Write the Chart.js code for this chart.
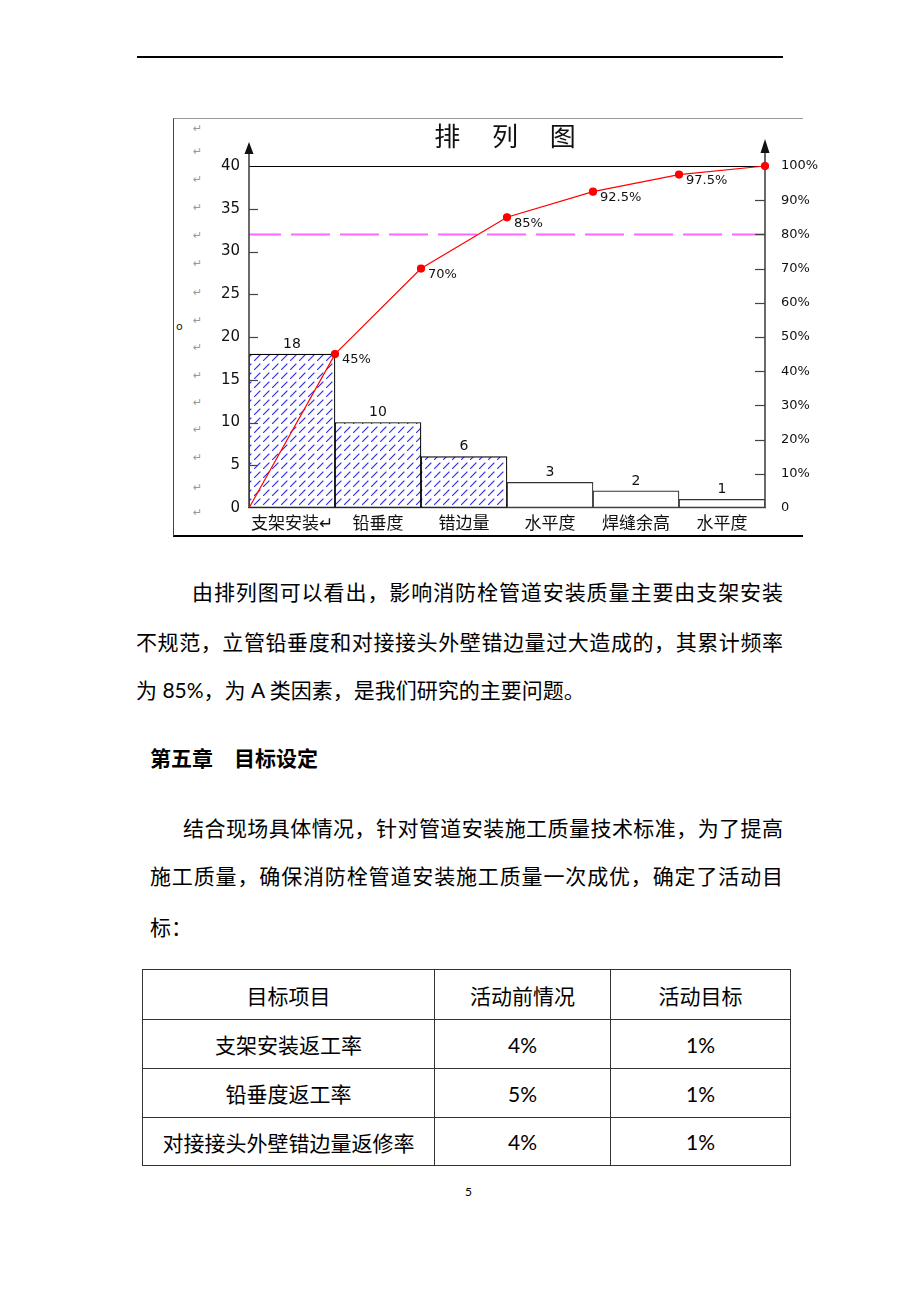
<!DOCTYPE html>
<html>
<head>
<meta charset="utf-8">
<script src="https://cdn.jsdelivr.net/npm/chart.js@4/dist/chart.umd.min.js"></script>
<style>
  html, body { margin: 0; padding: 0; background: #fff; }
  #page { position: relative; width: 920px; height: 1302px; overflow: hidden; font-family: "Noto Sans CJK SC", sans-serif; color: #000; }
  .rule { position: absolute; left: 137px; top: 56px; width: 646px; height: 0; border-top: 2px solid #000; }
  .frame { position: absolute; left: 173px; top: 118px; width: 630px; height: 419px; border-left: 1px solid #444; border-top: 1px solid #999; border-bottom: 2px solid #000; box-sizing: border-box; }
  #chartBox { position: absolute; left: 173px; top: 118px; width: 664px; height: 418px; }
  #chartBox canvas { display: block; }
  .mark { position: absolute; left: 193px; font-size: 11px; line-height: 11px; color: #999; font-family: "DejaVu Sans", sans-serif; }
  .txt { position: absolute; font-size: 21px; line-height: 30px; white-space: nowrap; font-family: "Lato", "Noto Sans CJK SC", sans-serif; }
  .just { white-space: normal; text-align: justify; text-align-last: justify; }
  .head { font-weight: bold; }
  table { position: absolute; left: 142px; top: 969px; width: 648px; border-collapse: collapse; table-layout: fixed; font-family: "Lato", "Noto Sans CJK SC", sans-serif; font-size: 21px; }
  td { border: 1px solid #333; text-align: center; padding: 0; }
  .pno { position: absolute; left: 465px; top: 1184px; font-size: 12px; font-family: "Lato", sans-serif; }
</style>
</head>
<body>
<div id="page">
  <div class="rule"></div>
  <div class="frame"></div>
  <div id="marks"></div>
  <div style="position:absolute;left:176px;top:320px;font-size:11px;color:#222;font-family:'DejaVu Sans',sans-serif;">o</div>
  <div id="chartBox"><canvas id="c" width="664" height="418" style="width:664px;height:418px"></canvas></div>

  <div class="txt just" style="left:192px;top:577px;width:591px;">由排列图可以看出，影响消防栓管道安装质量主要由支架安装</div>
  <div class="txt just" style="left:136px;top:627px;width:647px;">不规范，立管铅垂度和对接接头外壁错边量过大造成的，其累计频率</div>
  <div class="txt" style="left:136px;top:675px;">为 85%，为 A 类因素，是我们研究的主要问题。</div>

  <div class="txt head" style="left:150px;top:743px;">第五章　目标设定</div>

  <div class="txt just" style="left:183px;top:813px;width:600px;">结合现场具体情况，针对管道安装施工质量技术标准，为了提高</div>
  <div class="txt just" style="left:150px;top:861px;width:633px;">施工质量，确保消防栓管道安装施工质量一次成优，确定了活动目</div>
  <div class="txt" style="left:150px;top:912px;">标：</div>

  <table>
    <colgroup><col style="width:292px"><col style="width:176px"><col style="width:180px"></colgroup>
    <tr style="height:50px"><td>目标项目</td><td>活动前情况</td><td>活动目标</td></tr>
    <tr style="height:49px"><td>支架安装返工率</td><td>4%</td><td>1%</td></tr>
    <tr style="height:49px"><td>铅垂度返工率</td><td>5%</td><td>1%</td></tr>
    <tr style="height:48px"><td>对接接头外壁错边量返修率</td><td>4%</td><td>1%</td></tr>
  </table>

  <div class="pno">5</div>
</div>

<script>
// ---------------- data ----------------
const categories = ['支架安装↵', '铅垂度', '错边量', '水平度', '焊缝余高', '水平度'];
const counts = [18, 10, 6, 3, 2, 1];
const cumulativePct = [0, 45, 70, 85, 92.5, 97.5, 100];
const cumulativeLabels = ['', '45%', '70%', '85%', '92.5%', '97.5%', ''];
const thresholdPct = 80;
const leftMax = 40;
const leftStep = 5;
const rightTickLabels = ['0', '10%', '20%', '30%', '40%', '50%', '60%', '70%', '80%', '90%', '100%'];
const hatchedBars = 3;

// paragraph marks of the document (decoration)
const markRows = [129, 152, 180, 208, 236, 264, 293, 321, 348, 376, 403, 430, 458, 488, 513];
const marksEl = document.getElementById('marks');
markRows.forEach(y => {
  const d = document.createElement('div');
  d.className = 'mark'; d.style.top = (y - 6) + 'px'; d.textContent = '↵';
  marksEl.appendChild(d);
});

// ---------------- hatch pattern ----------------
function makeHatch() {
  const s = 9;
  const cv = document.createElement('canvas');
  cv.width = s; cv.height = s;
  const g = cv.getContext('2d');
  g.fillStyle = '#ffffff';
  g.fillRect(0, 0, s, s);
  g.strokeStyle = '#3030f0';
  g.lineWidth = 1.2;
  g.setLineDash([9, 3.73]);
  g.beginPath(); g.moveTo(0, s); g.lineTo(s, 0); g.stroke();
  return g.createPattern(cv, 'repeat');
}
const hatch = makeHatch();

// ---------------- decorations plugin ----------------
const decor = {
  id: 'decor',
  afterDatasetsDraw(chart) {
    const { ctx, chartArea: a, scales } = chart;
    const y = scales.y, y2 = scales.y2;
    ctx.save();

    // vertical axes with arrow heads above the plot
    ctx.strokeStyle = '#444'; ctx.fillStyle = '#111'; ctx.lineWidth = 1.6;
    [[a.left, a.top - 12, a.top - 24], [a.right, a.top - 13, a.top - 27]].forEach(([x, base, apex]) => {
      ctx.beginPath(); ctx.moveTo(x, a.bottom); ctx.lineTo(x, base); ctx.stroke();
      ctx.beginPath(); ctx.moveTo(x, apex); ctx.lineTo(x - 4.5, base); ctx.lineTo(x + 4.5, base); ctx.closePath(); ctx.fill();
    });
    // inward tick marks
    ctx.lineWidth = 1.2; ctx.strokeStyle = '#444';
    y.ticks.forEach(t => {
      if (t.value <= 0 || t.value >= leftMax) return;
      const py = Math.round(y.getPixelForValue(t.value)) + 0.5;
      ctx.beginPath(); ctx.moveTo(a.left, py); ctx.lineTo(a.left + 9, py); ctx.stroke();
    });
    y2.ticks.forEach(t => {
      if (t.value <= 0 || t.value >= 100) return;
      const py = Math.round(y2.getPixelForValue(t.value)) + 0.5;
      ctx.beginPath(); ctx.moveTo(a.right, py); ctx.lineTo(a.right - 10, py); ctx.stroke();
    });

    // redraw cumulative points on top of the axes (unclipped)
    chart.getDatasetMeta(1).data.forEach((pt, i) => {
      if (i === 0) return;
      ctx.fillStyle = '#ff0000';
      ctx.beginPath(); ctx.arc(pt.x, pt.y, 3.5, 0, Math.PI * 2); ctx.fill();
    });

    // bar value labels
    ctx.fillStyle = '#111';
    ctx.font = '14px "DejaVu Sans", sans-serif';
    ctx.textAlign = 'center'; ctx.textBaseline = 'middle';
    chart.getDatasetMeta(0).data.forEach((bar, i) => {
      ctx.fillText(String(counts[i]), bar.x, bar.y - 10);
    });

    // cumulative labels
    ctx.font = '13px "DejaVu Sans", sans-serif';
    ctx.textAlign = 'left';
    chart.getDatasetMeta(1).data.forEach((pt, i) => {
      if (cumulativeLabels[i]) ctx.fillText(cumulativeLabels[i], pt.x + 7, pt.y + 6);
    });
    ctx.restore();
  }
};

// ---------------- chart ----------------
new Chart(document.getElementById('c'), {
  type: 'bar',
  data: {
    datasets: [
      {
        type: 'bar',
        label: '频数',
        data: counts.map((v, i) => ({ x: i + 0.5, y: v })),
        xAxisID: 'x', yAxisID: 'y',
        backgroundColor: ctx => ctx.dataIndex < hatchedBars ? hatch : '#ffffff',
        borderColor: ctx => ctx.dataIndex < hatchedBars ? '#000000' : '#333333',
        borderWidth: 1.2,
        borderSkipped: false,
        categoryPercentage: 1.0,
        barPercentage: 1.0,
        order: 2
      },
      {
        type: 'line',
        label: '累计频率',
        data: cumulativePct.map((v, i) => ({ x: i, y: v })),
        xAxisID: 'x', yAxisID: 'y2',
        borderColor: '#ff0000',
        borderWidth: 1.2,
        pointBackgroundColor: '#ff0000',
        pointBorderColor: '#ff0000',
        pointRadius: ctx => ctx.dataIndex === 0 ? 0 : 3.5,
        tension: 0,
        fill: false,
        clip: false,
        order: 0
      },
      {
        type: 'line',
        label: '80%',
        data: [{ x: 0, y: thresholdPct }, { x: categories.length, y: thresholdPct }],
        xAxisID: 'x', yAxisID: 'y2',
        borderColor: '#ff66ff',
        borderWidth: 2,
        borderDash: [39, 10],
        borderDashOffset: 7,
        pointRadius: 0,
        fill: false,
        order: 1
      }
    ]
  },
  options: {
    responsive: false,
    animation: false,
    devicePixelRatio: 1,
    events: [],
    layout: { padding: 0 },
    plugins: {
      legend: { display: false },
      tooltip: { enabled: false },
      title: {
        display: true,
        text: '排　 列　 图',
        color: '#111',
        font: { family: '"Noto Sans CJK SC", sans-serif', size: 26, weight: 'normal', lineHeight: 1.2 },
        padding: { top: 3, bottom: 13.8 }
      }
    },
    scales: {
      x: {
        type: 'linear',
        min: 0,
        max: categories.length,
        offset: false,
        afterBuildTicks(s) { s.ticks = categories.map((_, i) => ({ value: i + 0.5 })); },
        afterFit(s) { s.height = 28; },
        ticks: {
          autoSkip: false, maxRotation: 0, minRotation: 0, padding: 4,
          color: '#111',
          font: { family: '"Noto Sans CJK SC", sans-serif', size: 17 },
          callback: (v, i) => categories[i]
        },
        grid: { display: false, drawTicks: false, offset: false },
        border: { display: true, color: '#555', width: 1.2 }
      },
      y: {
        position: 'left',
        min: 0, max: leftMax,
        afterFit(s) { s.width = 76; },
        ticks: { stepSize: leftStep, padding: 9, color: '#111', font: { family: '"DejaVu Sans", sans-serif', size: 15 } },
        grid: {
          drawTicks: false,
          lineWidth: 1,
          color: c => (c.tick && c.tick.value === leftMax) ? '#000000' : 'rgba(0,0,0,0)'
        },
        border: { display: false }
      },
      y2: {
        position: 'right',
        min: 0, max: 100,
        afterFit(s) { s.width = 72; },
        ticks: { stepSize: 10, padding: 16, color: '#111', font: { family: '"DejaVu Sans", sans-serif', size: 13 },
          callback: (v, i) => rightTickLabels[i] },
        grid: { display: false, drawTicks: false },
        border: { display: false }
      }
    }
  },
  plugins: [decor]
});
</script>
</body>
</html>
